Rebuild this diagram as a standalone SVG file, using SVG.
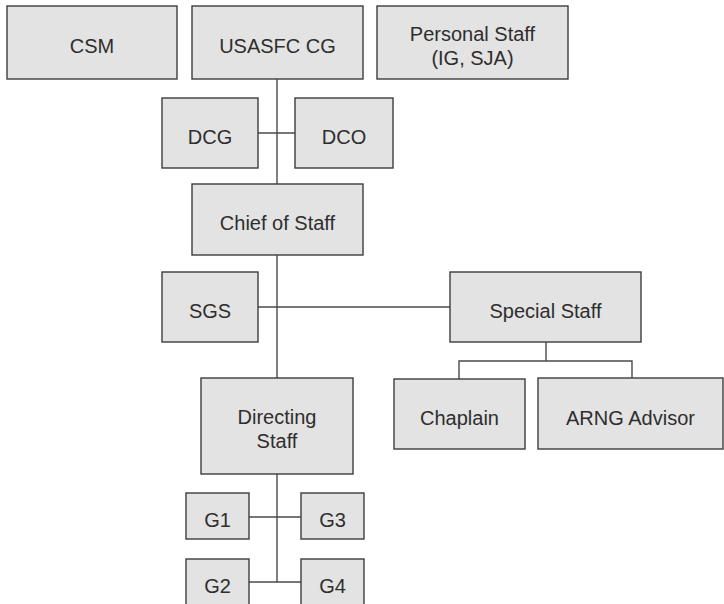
<svg xmlns="http://www.w3.org/2000/svg" width="724" height="604" viewBox="0 0 724 604">
  <style>
    .box { fill: #e3e3e3; stroke: #3c3c3c; stroke-width: 1.4; }
    .lbl { font-family: "Liberation Sans", Arial, sans-serif; font-size: 20px; fill: #2e2e2e; text-anchor: middle; }
    .link { fill: none; stroke: #4a4a4a; stroke-width: 1.4; }
  </style>
  <rect width="724" height="604" fill="#ffffff"/>

  <!-- connectors -->
  <g id="connectors">
    <path class="link" d="M277 79 V184"/>
    <path class="link" d="M258 133 H295"/>
    <path class="link" d="M277 255 V378"/>
    <path class="link" d="M258 307 H450"/>
    <path class="link" d="M546 342 V361 M459 379 V361 H632 V378"/>
    <path class="link" d="M277 474 V582"/>
    <path class="link" d="M249 517 H301"/>
    <path class="link" d="M249 582 H301"/>
  </g>

  <g id="csm">
    <rect class="box" x="7" y="6" width="170" height="73"/>
    <text class="lbl" x="92" y="53">CSM</text>
  </g>
  <g id="usasfc-cg">
    <rect class="box" x="192" y="6" width="171" height="73"/>
    <text class="lbl" x="277.5" y="53">USASFC CG</text>
  </g>
  <g id="personal-staff">
    <rect class="box" x="377" y="6" width="191" height="73"/>
    <text class="lbl" x="472.5" y="41">Personal Staff</text>
    <text class="lbl" x="472.5" y="65">(IG, SJA)</text>
  </g>
  <g id="dcg">
    <rect class="box" x="162" y="98" width="96" height="70"/>
    <text class="lbl" x="210" y="143.5">DCG</text>
  </g>
  <g id="dco">
    <rect class="box" x="295" y="98" width="98" height="70"/>
    <text class="lbl" x="344" y="143.5">DCO</text>
  </g>
  <g id="chief-of-staff">
    <rect class="box" x="192" y="184" width="171" height="71"/>
    <text class="lbl" x="277.5" y="230">Chief of Staff</text>
  </g>
  <g id="sgs">
    <rect class="box" x="162" y="272" width="96" height="70"/>
    <text class="lbl" x="210" y="317.5">SGS</text>
  </g>
  <g id="special-staff">
    <rect class="box" x="450" y="272" width="191" height="70"/>
    <text class="lbl" x="545.5" y="317.5">Special Staff</text>
  </g>
  <g id="directing-staff">
    <rect class="box" x="201" y="378" width="152" height="96"/>
    <text class="lbl" x="277" y="424">Directing</text>
    <text class="lbl" x="277" y="448">Staff</text>
  </g>
  <g id="chaplain">
    <rect class="box" x="394" y="379" width="131" height="70"/>
    <text class="lbl" x="459.5" y="424.5">Chaplain</text>
  </g>
  <g id="arng-advisor">
    <rect class="box" x="538" y="378" width="185" height="71"/>
    <text class="lbl" x="630.5" y="424.5">ARNG Advisor</text>
  </g>
  <g id="g1">
    <rect class="box" x="186" y="493" width="63" height="46"/>
    <text class="lbl" x="217.5" y="527">G1</text>
  </g>
  <g id="g3">
    <rect class="box" x="301" y="493" width="63" height="46"/>
    <text class="lbl" x="332.5" y="527">G3</text>
  </g>
  <g id="g2">
    <rect class="box" x="186" y="559" width="63" height="47"/>
    <text class="lbl" x="217.5" y="593">G2</text>
  </g>
  <g id="g4">
    <rect class="box" x="301" y="559" width="63" height="47"/>
    <text class="lbl" x="332.5" y="593">G4</text>
  </g>
</svg>
